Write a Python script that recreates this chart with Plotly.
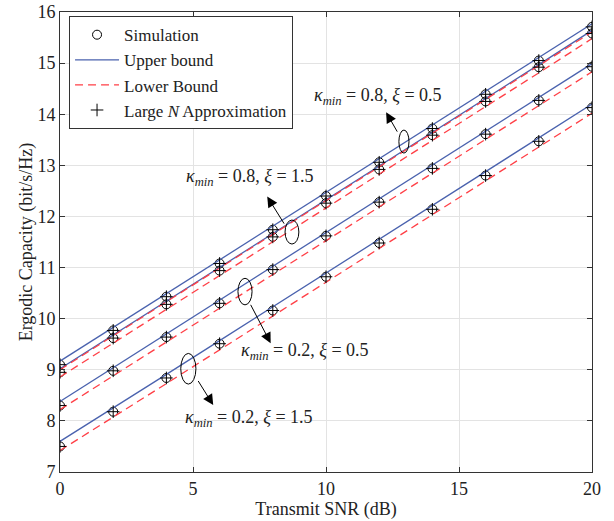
import plotly.graph_objects as go

snr = [0, 2, 4, 6, 8, 10, 12, 14, 16, 18, 20]

# Simulation values (bit/s/Hz)
sim_k08_x05 = [9.10, 9.77, 10.43, 11.08, 11.74, 12.40, 13.06, 13.72, 14.39, 15.05, 15.71]
sim_k08_x15 = [8.95, 9.62, 10.28, 10.94, 11.60, 12.26, 12.92, 13.59, 14.25, 14.92, 15.58]
sim_k02_x05 = [8.30, 8.98, 9.64, 10.30, 10.96, 11.62, 12.28, 12.94, 13.61, 14.27, 14.93]
sim_k02_x15 = [7.50, 8.18, 8.84, 9.51, 10.16, 10.82, 11.48, 12.14, 12.80, 13.47, 14.13]

# Upper bounds
ub_k08_x05 = [9.17, 9.83, 10.49, 11.15, 11.81, 12.47, 13.13, 13.79, 14.45, 15.11, 15.77]
ub_k08_x15 = [9.02, 9.68, 10.34, 11.00, 11.66, 12.32, 12.98, 13.65, 14.31, 14.97, 15.64]
ub_k02_x05 = [8.38, 9.04, 9.70, 10.36, 11.02, 11.68, 12.34, 13.00, 13.66, 14.32, 14.99]
ub_k02_x15 = [7.60, 8.25, 8.91, 9.57, 10.23, 10.89, 11.55, 12.21, 12.87, 13.53, 14.20]

# Lower bounds
lb_k08_x05 = [9.00, 9.67, 10.33, 10.99, 11.65, 12.31, 12.97, 13.63, 14.29, 14.95, 15.61]
lb_k08_x15 = [8.86, 9.52, 10.18, 10.84, 11.50, 12.16, 12.82, 13.49, 14.15, 14.81, 15.48]
lb_k02_x05 = [8.22, 8.88, 9.54, 10.20, 10.86, 11.52, 12.18, 12.84, 13.51, 14.17, 14.83]
lb_k02_x15 = [7.42, 8.07, 8.73, 9.39, 10.05, 10.71, 11.37, 12.03, 12.69, 13.35, 14.02]

# Large N approximation (coincides with simulation)
app_k08_x05 = sim_k08_x05
app_k08_x15 = sim_k08_x15
app_k02_x05 = sim_k02_x05
app_k02_x15 = sim_k02_x15

x_ticks = [0, 5, 10, 15, 20]
y_ticks = [7, 8, 9, 10, 11, 12, 13, 14, 15, 16]

BLUE = "#4a62ae"
RED = "#ff3f46"
FONT = "Liberation Serif"
TXT = "#222"

fig = go.Figure()

sims = [sim_k08_x05, sim_k08_x15, sim_k02_x05, sim_k02_x15]
ubs = [ub_k08_x05, ub_k08_x15, ub_k02_x05, ub_k02_x15]
lbs = [lb_k08_x05, lb_k08_x15, lb_k02_x05, lb_k02_x15]
apps = [app_k08_x05, app_k08_x15, app_k02_x05, app_k02_x15]

for i, s in enumerate(sims):
    fig.add_trace(go.Scatter(x=snr, y=s, mode="markers", name="Simulation",
                             legendgroup="sim", showlegend=(i == 0),
                             marker=dict(symbol="circle-open", size=9, color="black",
                                         line=dict(width=1, color="black"))))
for i, u in enumerate(ubs):
    fig.add_trace(go.Scatter(x=snr, y=u, mode="lines", name="Upper bound",
                             legendgroup="ub", showlegend=(i == 0),
                             line=dict(color=BLUE, width=1.3)))
for i, l in enumerate(lbs):
    fig.add_trace(go.Scatter(x=snr, y=l, mode="lines", name="Lower Bound",
                             legendgroup="lb", showlegend=(i == 0),
                             line=dict(color=RED, width=1.3, dash="8px,5px")))
for i, a in enumerate(apps):
    fig.add_trace(go.Scatter(x=snr, y=a, mode="markers", name="Large <i>N</i> Approximation",
                             legendgroup="app", showlegend=(i == 0),
                             marker=dict(symbol="cross-thin-open", size=9, color="black",
                                         line=dict(width=1, color="black"))))

# Ellipses
ellipses = [
    (12.74, 13.24, 13.12, 13.69),
    (8.46, 11.46, 8.98, 11.93),
    (6.69, 10.27, 7.22, 10.79),
    (4.54, 8.72, 5.11, 9.32),
]
for x0, y0, x1, y1 in ellipses:
    fig.add_shape(type="circle", xref="x", yref="y", x0=x0, y0=y0, x1=x1, y1=y1,
                  line=dict(color="black", width=1))

# Arrows (tail -> head)
arrows = [
    ((12.71, 13.63), (12.26, 14.04)),
    ((8.46, 11.83), (7.79, 12.39)),
    ((7.14, 10.30), (7.92, 9.52)),
    ((5.16, 8.81), (5.76, 8.31)),
]
for (tx, ty), (hx, hy) in arrows:
    fig.add_annotation(x=hx, y=hy, ax=tx, ay=ty, xref="x", yref="y", axref="x", ayref="y",
                       text="", showarrow=True, arrowhead=2, arrowsize=2.1, arrowwidth=1,
                       arrowcolor="black")

labels = [
    (11.95, 14.34, "<i>κ</i><sub><i>min</i></sub> = 0.8, <i>ξ</i> = 0.5"),
    (7.14, 12.77, "<i>κ</i><sub><i>min</i></sub> = 0.8, <i>ξ</i> = 1.5"),
    (9.21, 9.35, "<i>κ</i><sub><i>min</i></sub> = 0.2, <i>ξ</i> = 0.5"),
    (7.12, 8.05, "<i>κ</i><sub><i>min</i></sub> = 0.2, <i>ξ</i> = 1.5"),
]
for x, y, t in labels:
    fig.add_annotation(x=x, y=y, xref="x", yref="y", text=t, showarrow=False,
                       font=dict(family=FONT, size=18, color=TXT),
                       bgcolor="rgba(255,255,255,0)")

axis_common = dict(showgrid=True, gridcolor="#e3e3e3", gridwidth=1, showline=True,
                   linecolor="#333", linewidth=1, mirror="ticks", ticks="inside",
                   ticklen=5, tickcolor="#333", zeroline=False, automargin=False,
                   tickfont=dict(family=FONT, size=18, color=TXT))

fig.update_xaxes(range=[0, 20], tickvals=x_ticks,
                 title=dict(text="Transmit SNR (dB)", font=dict(family=FONT, size=18, color=TXT),
                            standoff=0),
                 **axis_common)
fig.update_yaxes(range=[7, 16], tickvals=y_ticks,
                 title=dict(text="Ergodic Capacity (bit/s/Hz)",
                            font=dict(family=FONT, size=18, color=TXT), standoff=0),
                 **axis_common)

fig.update_layout(
    width=614, height=521,
    margin=dict(l=60, r=22, t=12, b=49),
    plot_bgcolor="white", paper_bgcolor="white",
    font=dict(family=FONT, size=18, color=TXT),
    legend=dict(x=0.017, y=0.991, xanchor="left", yanchor="top",
                bordercolor="#333", borderwidth=1, bgcolor="white",
                font=dict(family=FONT, size=17, color=TXT),
                itemwidth=44, tracegroupgap=0, traceorder="normal"),
)

fig.write_html("out.html", config={"displayModeBar": False},
               post_script="document.body.style.margin='0';")
